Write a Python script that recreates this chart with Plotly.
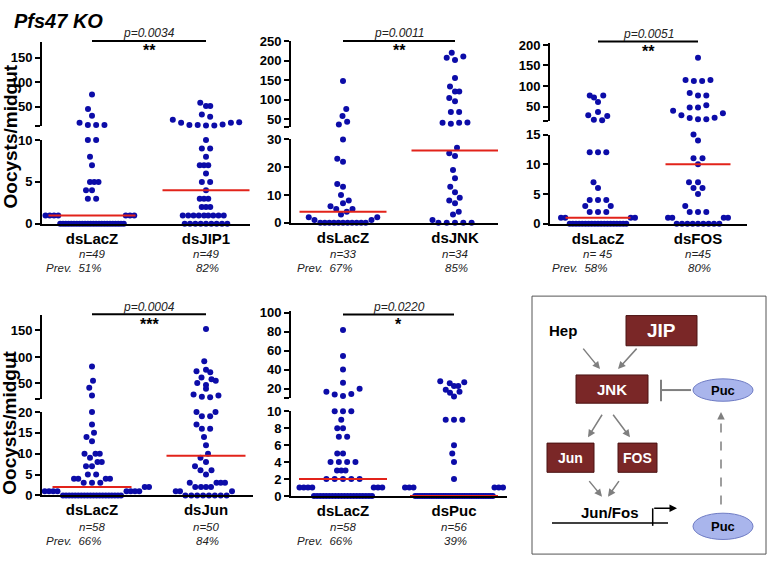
import numpy as np
import plotly.graph_objects as go

W, H = 768, 565
FONT = "Liberation Sans, Arial, Helvetica, sans-serif"
BLUE = "#0C0CA8"
RED = "#E2231A"
GRAY = "#7F7F7F"
BROWN = "#7A2727"
TXT = "#222222"

# ---------------- data ----------------
title_text = "Pfs47 KO"
y_title = "Oocysts/midgut"

p1_groups = ["dsLacZ", "dsJIP1"]
p1_ctrl = [75, 45, 31, 17, 12, 12, 12, 10, 10, 8, 7, 5, 5, 5, 4, 4, 3, 3] + [1] * 7 + [0] * 24
p1_trt = [58, 51, 51, 34, 29, 23, 17, 12, 12, 11, 11, 13, 17, 18, 10, 9, 9, 8, 7, 7, 7, 6, 5, 5, 4,
          3, 3, 3, 2, 2, 2] + [1] * 9 + [0] * 9
p1_n = ["n=49", "n=49"]
p1_prev = ["51%", "82%"]
p1_p = "p=0.0034"
p1_star = "**"
p1_low_ticks = [0, 5, 10]
p1_up_ticks = [50, 100, 150]

p2_groups = ["dsLacZ", "dsJNK"]
p2_ctrl = [148, 76, 58, 36, 43, 30, 23, 22, 14, 13, 10, 8, 7, 6, 5, 5, 4, 3, 2, 2, 1, 1] + [0] * 11
p2_trt = [221, 208, 202, 211, 156, 134, 121, 121, 96, 104, 68, 68, 40, 38, 40, 41, 27, 25, 24, 19, 16,
          13, 11, 9, 8, 7, 4, 3, 1] + [0] * 5
p2_n = ["n=33", "n=34"]
p2_prev = ["67%", "85%"]
p2_p = "p=0.0011"
p2_star = "**"
p2_low_ticks = [0, 10, 20, 30]
p2_up_ticks = [50, 100, 150, 200, 250]

p3_groups = ["dsLacZ", "dsFOS"]
p3_ctrl = [77, 72, 77, 61, 29, 27, 18, 17, 37, 12, 12, 12, 7, 6, 4, 4, 4, 3, 3, 2, 2, 2] + [1] * 4 + [0] * 19
p3_trt = [169, 115, 112, 112, 115, 83, 77, 77, 48, 48, 53, 40, 29, 22, 19, 19, 23, 34, 15, 14, 11, 11,
          10, 7, 7, 6, 6, 5, 3, 2, 2, 2] + [1] * 4 + [0] * 9
p3_n = ["n= 45", "n=45"]
p3_prev = ["58%", "80%"]
p3_p = "p=0.0051"
p3_star = "**"
p3_low_ticks = [0, 5, 10, 15]
p3_up_ticks = [50, 100, 150, 200]

p4_groups = ["dsLacZ", "dsJun"]
p4_ctrl = [82, 55, 42, 27, 20, 17, 15, 14, 13, 10, 10, 10, 9, 8, 8, 7, 7, 5, 5, 4, 4, 4, 4, 3, 3, 3,
           2, 2, 2, 2] + [1] * 8 + [0] * 20
p4_trt = [153, 92, 73, 76, 71, 51, 61, 47, 58, 55, 40, 29, 25, 24, 27, 20, 19, 19, 20, 17, 16, 16, 14,
          12, 10, 9, 8, 7, 6, 6, 5, 3, 3, 3, 3, 2, 2, 2, 2, 1, 1, 1] + [0] * 8
p4_n = ["n=58", "n=50"]
p4_prev = ["66%", "84%"]
p4_p = "p=0.0004"
p4_star = "***"
p4_low_ticks = [0, 5, 10, 15, 20]
p4_up_ticks = [50, 100, 150]

p5_groups = ["dsLacZ", "dsPuc"]
p5_ctrl = [82, 54.5, 40.5, 26.5, 17, 14, 12.5, 14.5, 20, 10, 10, 10, 9, 8, 8, 7, 7, 5, 5, 4, 4, 4, 4,
           3, 3, 3, 2, 2, 2, 2, 2] + [1] * 7 + [0] * 20
p5_trt = [28, 26, 23, 23, 27, 19, 16, 12, 17, 9, 9, 9, 6, 5, 4, 2] + [1] * 6 + [0] * 34
p5_n = ["n=58", "n=56"]
p5_prev = ["66%", "39%"]
p5_p = "p=0.0220"
p5_star = "*"
p5_low_ticks = [0, 2, 4, 6, 8, 10]
p5_up_ticks = [20, 40, 60, 80, 100]

# ---------------- geometry (pixels) ----------------
geo = [
    dict(ax0=42, ax1=250, c0=92, c1=206, base=222.7, ltop=136.7, L=10, ubot=122.3, utop=36.3, U=(10, 182),
         hw=43.5, br=35, row="top"),
    dict(ax0=291, ax1=498, c0=343, c1=455, base=221.7, ltop=136, L=30, ubot=123, utop=35, U=(30, 251),
         hw=43.5, br=35, row="top"),
    dict(ax0=550, ax1=747, c0=598, c1=698, base=222.7, ltop=131, L=15, ubot=117.1, utop=37.3, U=(15, 204),
         hw=32.5, br=35.5, row="top"),
    dict(ax0=42, ax1=253, c0=92, c1=206, base=501.7, ltop=416, L=20, ubot=403, utop=316, U=(20, 180),
         hw=39.5, br=315.7, row="bot"),
    dict(ax0=291, ax1=507, c0=343, c1=454, base=502.3, ltop=415.3, L=10, ubot=402, utop=312.7,
         U=(10, 101.6), hw=44, br=316, row="bot"),
]
panels = [
    (p1_groups, p1_ctrl, p1_trt, p1_n, p1_prev, p1_p, p1_star, p1_low_ticks, p1_up_ticks),
    (p2_groups, p2_ctrl, p2_trt, p2_n, p2_prev, p2_p, p2_star, p2_low_ticks, p2_up_ticks),
    (p3_groups, p3_ctrl, p3_trt, p3_n, p3_prev, p3_p, p3_star, p3_low_ticks, p3_up_ticks),
    (p4_groups, p4_ctrl, p4_trt, p4_n, p4_prev, p4_p, p4_star, p4_low_ticks, p4_up_ticks),
    (p5_groups, p5_ctrl, p5_trt, p5_n, p5_prev, p5_p, p5_star, p5_low_ticks, p5_up_ticks),
]


def PX(x):
    return x / W


def PY(y):
    return 1 - y / H


def ypix(v, g):
    if v <= g["L"]:
        return v / g["L"] * (g["base"] - g["ltop"])
    u0, u1 = g["U"]
    return (g["base"] - g["ubot"]) + (v - u0) / (u1 - u0) * (g["ubot"] - g["utop"])


# beeswarm layout (pixel space)
DX, DY, TOL, SG, STEP = 6.0, 9.0, 2.96, 4.2, 8.3
GRID = np.array(sorted(np.arange(-90, 90.01, 0.25), key=lambda x: (abs(x), x)))


def zero_spacing(k):
    if k < 2:
        return STEP
    return min(STEP, (30 + 1.4 * k) / (k - 1))


def swarm(vals, g):
    n = len(vals)
    ys = [ypix(v, g) for v in vals]
    order = sorted(range(n), key=lambda i: (ys[i], i))
    rows, last, lastv = [], None, None
    for i in order:
        v = vals[i]
        same = rows and (v == lastv or (v > g["L"] and lastv > g["L"] and ys[i] - last <= TOL))
        if same:
            rows[-1].append(i)
        else:
            rows.append([i])
        last, lastv = ys[i], v
    placed = []
    xs = [0.0] * n

    def blocked_mask(xarr, y):
        if not placed:
            return np.zeros(len(xarr), bool)
        P = np.array(placed)
        d = ((xarr[:, None] - P[None, :, 0]) / DX) ** 2 + ((y - P[None, :, 1]) / DY) ** 2
        return (d < 1).any(axis=1)

    for row in rows:
        members = sorted(row)
        k = len(members)
        s = zero_spacing(k) if all(vals[i] == 0 for i in members) else STEP
        cand = [(j - (k - 1) / 2) * s for j in range(k)]
        bad = any(blocked_mask(np.array([cand[j]]), ys[m])[0] for j, m in enumerate(members))
        if bad:
            pos = []
            for m in members:
                ok = ~blocked_mask(GRID, ys[m])
                for p in pos:
                    ok &= np.abs(GRID - p) >= SG
                pos.append(float(GRID[int(np.argmax(ok))]))
            cand = sorted(pos)
        for j, m in enumerate(members):
            xs[m] = cand[j]
        placed.extend((xs[m], ys[m]) for m in members)
    return xs


fig = go.Figure()
layout = dict(width=W, height=H, margin=dict(l=0, r=0, t=0, b=0), autosize=False,
              paper_bgcolor="white", plot_bgcolor="white", showlegend=False)
annotations = []
shapes = []

tickfont = dict(family=FONT, size=13, color="black", weight="bold")
small = dict(family=FONT, size=11.5, color=TXT, style="italic")

for i, (grp, ctrl, trt, nlab, prev, ptxt, star, lt, ut) in enumerate(panels):
    g = geo[i]
    k = i + 1
    xa = "xaxis" if k == 1 else f"xaxis{k}"
    xr = "x" if k == 1 else f"x{k}"
    yl_i, yu_i = 2 * k - 1, 2 * k
    yla = "yaxis" if yl_i == 1 else f"yaxis{yl_i}"
    yua = f"yaxis{yu_i}"
    ylr = "y" if yl_i == 1 else f"y{yl_i}"
    yur = f"y{yu_i}"
    unit = g["c1"] - g["c0"]
    r0 = -(g["c0"] - g["ax0"]) / unit
    r1 = 1 + (g["ax1"] - g["c1"]) / unit

    layout[xa] = dict(domain=[PX(g["ax0"]), PX(g["ax1"])], range=[r0, r1], anchor=ylr,
                      tickvals=[0, 1], ticktext=grp, ticks="", showgrid=False, zeroline=False,
                      showline=True, linecolor="black", linewidth=2,
                      tickfont=dict(family=FONT, size=15, color="black", weight="bold"))
    layout[yla] = dict(domain=[PY(g["base"]), PY(g["ltop"])], range=[0, g["L"]], anchor=xr,
                       tickvals=lt, ticktext=[str(t) for t in lt], ticks="outside", ticklen=5,
                       tickwidth=2, tickcolor="black", showline=True, linecolor="black", linewidth=2,
                       showgrid=False, zeroline=False, tickfont=tickfont)
    layout[yua] = dict(domain=[PY(g["ubot"]), PY(g["utop"])], range=list(g["U"]), anchor=xr,
                       tickvals=[g["U"][0]] + ut, ticktext=[""] + [str(t) for t in ut],
                       ticks="outside", ticklen=5, tickwidth=2, tickcolor="black", showline=True,
                       linecolor="black", linewidth=2, showgrid=False, zeroline=False, tickfont=tickfont)

    for ci, vals in enumerate([ctrl, trt]):
        offs = swarm(vals, g)
        xs = [ci + o / unit for o in offs]
        lo = [(x, v) for x, v in zip(xs, vals) if v <= g["L"]]
        hi = [(x, v) for x, v in zip(xs, vals) if v > g["L"]]
        for pts, yr in ((lo, ylr), (hi, yur)):
            if pts:
                fig.add_trace(go.Scatter(x=[p[0] for p in pts], y=[p[1] for p in pts], xaxis=xr, yaxis=yr,
                                         mode="markers", cliponaxis=False, hoverinfo="skip",
                                         marker=dict(size=6, color=BLUE, line=dict(width=0))))
        med = float(np.median(vals))
        hw = g["hw"] / unit
        fig.add_trace(go.Scatter(x=[ci - hw, ci + hw], y=[med, med], xaxis=xr,
                                 yaxis=ylr if med <= g["L"] else yur, mode="lines", cliponaxis=False,
                                 hoverinfo="skip", line=dict(color=RED, width=2)))

    # significance bracket
    shapes.append(dict(type="line", xref=xr, yref="paper", x0=0, x1=1, y0=PY(g["br"]), y1=PY(g["br"]),
                       line=dict(color="black", width=2)))
    annotations.append(dict(x=0.5, xref=xr, y=PY(g["br"] - 8), yref="paper", text=ptxt, showarrow=False,
                            xanchor="center", yanchor="middle",
                            font=dict(family=FONT, size=12, color=TXT, style="italic")))
    annotations.append(dict(x=0.5, xref=xr, y=PY(g["br"] + 10), yref="paper", text=star, showarrow=False,
                            xanchor="center", yanchor="middle",
                            font=dict(family=FONT, size=16, color="black", weight="bold")))
    ny = 254 if g["row"] == "top" else 534.5
    py = 268 if g["row"] == "top" else 548.5
    for ci in range(2):
        annotations.append(dict(x=ci, xref=xr, y=PY(ny), yref="paper", text=nlab[ci], showarrow=False,
                                xanchor="center", yanchor="middle", font=small))
    annotations.append(dict(x=0, xref=xr, xshift=11, y=PY(py), yref="paper",
                            text="Prev.\u00a0\u00a0" + prev[0], showarrow=False,
                            xanchor="right", yanchor="middle", font=small))
    annotations.append(dict(x=1, xref=xr, xshift=1, y=PY(py), yref="paper", text=prev[1], showarrow=False,
                            xanchor="center", yanchor="middle", font=small))

# titles
annotations.append(dict(x=PX(12), y=PY(14), xref="paper", yref="paper", text=title_text, showarrow=False,
                        xanchor="left", yanchor="middle",
                        font=dict(family=FONT, size=20, color="black", weight="bold", style="italic")))
for cy in (133, 427):
    annotations.append(dict(x=PX(10), y=PY(cy), xref="paper", yref="paper", text=y_title, showarrow=False,
                            textangle=-90, xanchor="center", yanchor="middle",
                            font=dict(family=FONT, size=19, color="black", weight="bold")))

# ---------------- pathway diagram ----------------
def label(x, y, t, size, color="black"):
    annotations.append(dict(x=PX(x), y=PY(y), xref="paper", yref="paper", text=t, showarrow=False,
                            xanchor="center", yanchor="middle",
                            font=dict(family=FONT, size=size, color=color, weight="bold")))


shapes.append(dict(type="rect", xref="paper", yref="paper", x0=PX(532), x1=PX(766), y0=PY(562), y1=PY(297),
                   line=dict(color="#555555", width=1), fillcolor="white", layer="below"))
boxes = [("JIP", 626, 317, 697, 348, 19), ("JNK", 576, 378, 648, 407, 15),
         ("Jun", 547, 448, 594, 478, 14), ("FOS", 618, 448, 657, 478, 14)]
for t, x0, y0, x1, y1, fs in boxes:
    shapes.append(dict(type="rect", xref="paper", yref="paper", x0=PX(x0), x1=PX(x1), y0=PY(y1), y1=PY(y0),
                       line=dict(color="#4A1212", width=1), fillcolor=BROWN))
    label((x0 + x1) / 2, (y0 + y1) / 2, t, fs, "white")
for cy, hh in ((393.5, 11.5), (533.5, 13.5)):
    shapes.append(dict(type="circle", xref="paper", yref="paper", x0=PX(693), x1=PX(753), y0=PY(cy + hh),
                       y1=PY(cy - hh), line=dict(color="#6F7CC4", width=1), fillcolor="#A9B5EC"))
    label(723, cy, "Puc", 13)
label(563, 332, "Hep", 15)
label(610, 519, "Jun/Fos", 15)
# inhibition
shapes.append(dict(type="line", xref="paper", yref="paper", x0=PX(691), x1=PX(661), y0=PY(393.5),
                   y1=PY(393.5), line=dict(color=GRAY, width=2)))
shapes.append(dict(type="line", xref="paper", yref="paper", x0=PX(661), x1=PX(661), y0=PY(383), y1=PY(405),
                   line=dict(color=GRAY, width=2)))
# gene line and promoter
shapes.append(dict(type="line", xref="paper", yref="paper", x0=PX(552), x1=PX(668), y0=PY(530), y1=PY(530),
                   line=dict(color="black", width=1.5)))
shapes.append(dict(type="line", xref="paper", yref="paper", x0=PX(652.7), x1=PX(652.7), y0=PY(533),
                   y1=PY(515), line=dict(color="black", width=1.5)))
# dashed Puc arrow
shapes.append(dict(type="line", xref="paper", yref="paper", x0=PX(721), x1=PX(721), y0=PY(511), y1=PY(422),
                   line=dict(color=GRAY, width=1.5, dash="dash")))

arrows = [((582, 350), (600, 372), GRAY), ((638, 350), (618, 372), GRAY),
          ((603, 418), (588, 442), GRAY), ((612, 418), (630, 442), GRAY),
          ((588, 486), (602, 503), GRAY), ((620, 486), (608, 503), GRAY),
          ((652.7, 515), (677, 515), "black"), ((721, 424), (721, 416), GRAY)]
for (tx, ty), (hx, hy), col in arrows:
    annotations.append(dict(x=PX(hx), y=PY(hy), xref="paper", yref="paper", ax=tx - hx, ay=ty - hy,
                            axref="pixel", ayref="pixel", text="", showarrow=True, arrowhead=2,
                            xanchor="center", yanchor="middle",
                            arrowsize=1, arrowwidth=1.5, arrowcolor=col, standoff=0, startstandoff=0))

layout["annotations"] = annotations
layout["shapes"] = shapes
fig.update_layout(**layout)
fig.write_html("out.html", config={"displayModeBar": False},
               post_script="document.body.style.margin='0px';document.body.style.overflow='hidden';")
